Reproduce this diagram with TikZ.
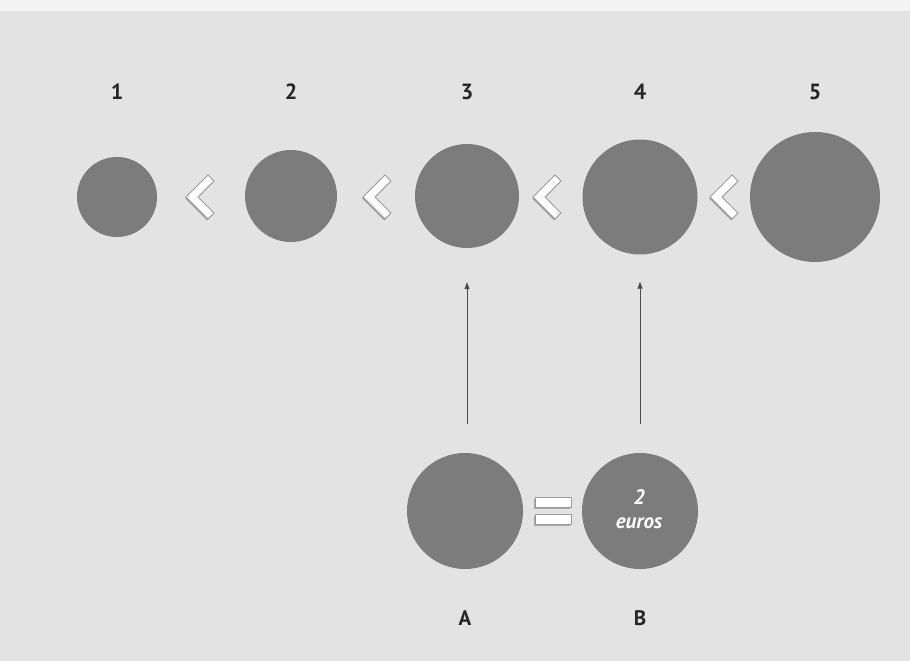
\documentclass[tikz,border=0pt]{standalone}
\usepackage{fontspec}
\setmainfont{PT Sans}
\usetikzlibrary{arrows.meta}
\definecolor{bg}{HTML}{E3E3E3}
\definecolor{band}{HTML}{F3F3F3}
\definecolor{coin}{HTML}{7C7C7C}
\definecolor{edgegray}{HTML}{9A9A9A}
\tikzset{
  coinnode/.style={circle, fill=coin, draw=none, inner sep=0pt, minimum size=#1},
  numlabel/.style={font=\bfseries\fontsize{22}{22}\selectfont, text=black!85},
  letlabel/.style={font=\bfseries\fontsize{21}{21}\selectfont, text=black!85},
  upconn/.style={draw=black!70, line width=0.8pt, -{Triangle[length=7pt,width=5pt]}},
  whitesym/.style={fill=white, draw=edgegray, line width=0.8pt, line join=round},
  symshadow/.style={fill=black!35, draw=none}
}
\newcommand{\chev}[1]{%
  \fill[symshadow] ([shift={(-1,1.5)}]#1,197) -- ++(22,-22) -- ++(6,6) -- ++(-16,16) -- ++(16,16) -- ++(-6,6) -- cycle;
  \filldraw[whitesym] (#1,197) -- ++(22,-22) -- ++(6,6) -- ++(-16,16) -- ++(16,16) -- ++(-6,6) -- cycle;
}
\begin{document}
\begin{tikzpicture}[x=1pt,y=-1pt]
\useasboundingbox (0,0) rectangle (910,661);
\fill[band] (0,0) rectangle (910,11);
\fill[bg] (0,11) rectangle (910,661);
% numbers
\node[numlabel] (n1) at (117,92) {1};
\node[numlabel] (n2) at (291,92) {2};
\node[numlabel] (n3) at (467,92) {3};
\node[numlabel] (n4) at (640,92) {4};
\node[numlabel] (n5) at (815,92) {5};
% coins
\node[coinnode=80pt] (c1) at (117,197) {};
\node[coinnode=92pt] (c2) at (291,196) {};
\node[coinnode=104pt] (c3) at (467,196) {};
\node[coinnode=115pt] (c4) at (640,197) {};
\node[coinnode=130pt] (c5) at (815,197) {};
% chevrons
\chev{186}
\chev{363}
\chev{533}
\chev{710}
% bottom coins
\node[coinnode=116pt] (A) at (465,511) {};
\node[coinnode=116pt] (B) at (640,511) {};
\node[text=white, align=center, inner sep=0pt, font=\bfseries\itshape\fontsize{21}{24}\selectfont] (btext) at (639,509) {2\\euros};
% equals
\fill[symshadow] (534,498.5) rectangle (570,508.5);
\fill[symshadow] (534,515.5) rectangle (570,525.5);
\filldraw[whitesym] (535,497) rectangle (571,507);
\filldraw[whitesym] (535,514) rectangle (571,524);
% labels
\node[letlabel] (la) at (465,618) {A};
\node[letlabel] (lb) at (640,618) {B};
% arrows
\draw[upconn, shorten <=29pt, shorten >=34pt] (c3.south |- A.north) -- (c3.south);
\draw[upconn, shorten <=29pt, shorten >=27pt] (B.north) -- (c4.south);
\end{tikzpicture}
\end{document}
